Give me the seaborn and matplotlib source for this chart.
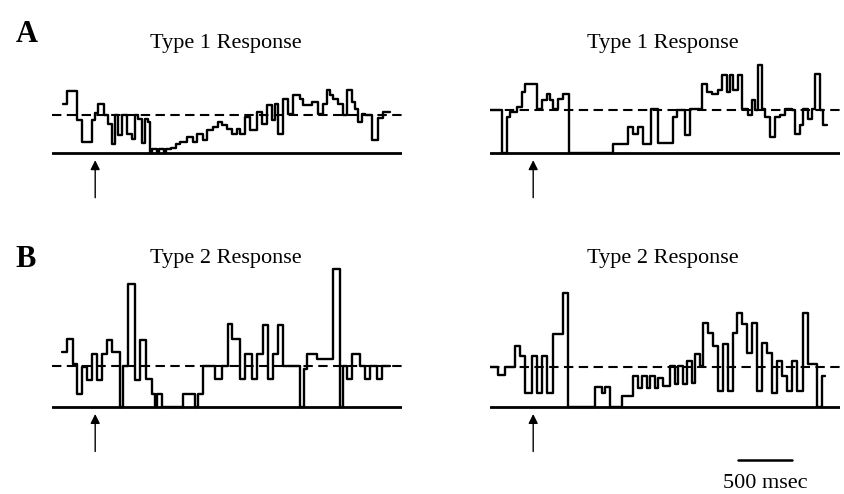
import numpy as np
import pandas as pd
import matplotlib
matplotlib.use("Agg")
import matplotlib.pyplot as plt
import seaborn as sns

# ---------------- data (time in ms, rate in spikes/s) ----------------
stim_ms = 400
xmax_ms = 3241
scale_ms = 500

# Type 1, left cell
a1_t = [99, 142, 229, 275, 368, 398, 429, 484, 521, 553, 583, 614, 645, 692, 738, 769, 799, 831,
        861, 892, 907, 926, 972, 991, 1037, 1056, 1102, 1148, 1185, 1250, 1306, 1343, 1398, 1435,
        1491, 1537, 1574, 1621, 1667, 1713, 1741, 1787, 1833, 1898, 1945, 1991, 2037, 2065, 2093,
        2139, 2185, 2232, 2296, 2324, 2408, 2463, 2509, 2547, 2574, 2602, 2648, 2695, 2732, 2778,
        2806, 2834, 2871, 2898, 2963, 3019, 3065]
a1_r = [49, 62, 33, 11, 33, 40, 49, 38, 29, 9, 38, 18, 38, 19, 14, 38, 34, 10,
        34, 31, 0, 3.5, 0, 3.5, 0, 3.5, 5, 9, 11, 16, 11, 19, 13, 23,
        26, 31, 28, 24, 19, 24, 19, 36, 23, 41, 29, 48, 33, 49, 19,
        54, 39, 58, 54, 48, 51, 39, 49, 63, 58, 54, 49, 38, 63, 51,
        44, 31, 39, 38, 13, 35, 41]
a1_end = 3130
a1_mean = 38

# Type 1, right cell
a2_t = [0, 111, 157, 185, 250, 296, 324, 435, 482, 528, 556, 583, 630, 676, 732, 1139, 1278,
        1324, 1370, 1417, 1491, 1556, 1695, 1732, 1806, 1852, 1963, 2009, 2056, 2111, 2148, 2195,
        2222, 2250, 2296, 2334, 2389, 2426, 2454, 2482, 2519, 2547, 2593, 2639, 2685, 2732, 2797,
        2824, 2871, 2898, 2945, 2982, 3010, 3056, 3084]
a2_r = [43, 0, 36, 41, 46, 61, 69, 44, 53, 59, 53, 44, 54, 59, 0, 9, 26,
        19, 26, 9, 44, 10, 36, 43, 18, 44, 69, 61, 59, 63, 78, 61,
        78, 63, 78, 44, 38, 53, 43, 88, 44, 36, 16, 36, 38, 44, 43,
        19, 28, 44, 34, 44, 79, 43, 28]
a2_end = 3121
a2_mean = 43

# Type 2, left cell
b1_t = [93, 139, 194, 232, 278, 324, 370, 417, 463, 509, 556, 630, 657, 704, 769, 815, 870, 926,
        954, 972, 1019, 1213, 1324, 1352, 1398, 1509, 1574, 1630, 1667, 1741, 1787, 1852, 1898,
        1954, 2000, 2046, 2093, 2139, 2296, 2334, 2361, 2454, 2602, 2667, 2695, 2732, 2778, 2852,
        2898, 2945, 3010, 3056]
b1_r = [55, 68, 43, 13, 40, 27, 53, 27, 53, 67, 55, 0, 41, 123, 27, 67, 28, 13,
        0, 13, 0, 13, 0, 13, 41, 28, 41, 83, 68, 28, 53, 28, 53,
        82, 28, 53, 82, 41, 0, 38, 53, 48, 138, 0, 41, 28, 53, 41,
        28, 41, 28, 41]
b1_end = 3130
b1_mean = 41

# Type 2, right cell
b2_t = [0, 74, 139, 232, 278, 324, 389, 435, 482, 528, 583, 676, 722, 972, 1037, 1065, 1111, 1222,
        1324, 1370, 1408, 1454, 1482, 1528, 1556, 1602, 1667, 1713, 1741, 1787, 1824, 1871, 1898,
        1945, 1972, 2019, 2065, 2111, 2158, 2204, 2250, 2287, 2334, 2380, 2426, 2472, 2519, 2565,
        2611, 2658, 2704, 2750, 2797, 2843, 2898, 2945, 3028, 3074]
b2_r = [40, 32, 40, 61, 51, 14, 51, 14, 51, 14, 73, 114, 0, 20, 14, 20, 0, 11,
        31, 19, 31, 19, 31, 19, 29, 21, 41, 23, 41, 23, 46, 24, 53,
        41, 84, 74, 61, 16, 63, 16, 74, 94, 83, 54, 84, 16, 64, 54,
        14, 46, 31, 16, 46, 16, 94, 43, 0, 31]
b2_end = 3102
b2_mean = 40

titles = ["Type 1 Response", "Type 1 Response", "Type 2 Response", "Type 2 Response"]
row_labels = ["A", "B"]
scale_label = "500 msec"

# ---------------- figure ----------------
sns.set_style("white")
plt.rcParams["font.family"] = ["Liberation Serif", "DejaVu Serif"]
plt.rcParams["text.color"] = "black"

W, H = 845, 494
fig = plt.figure(figsize=(W / 100, H / 100), dpi=100)


def rect(x0, y_top, w, h):
    return [x0 / W, 1 - (y_top + h) / H, w / W, h / H]


panels = [
    (a1_t, a1_r, a1_end, a1_mean, rect(52, 57.7, 350, 100), (-5, 95)),
    (a2_t, a2_r, a2_end, a2_mean, rect(490, 57.7, 350, 100), (-5, 95)),
    (b1_t, b1_r, b1_end, b1_mean, rect(52, 261.5, 350, 150), (-5, 145)),
    (b2_t, b2_r, b2_end, b2_mean, rect(490, 261.5, 350, 150), (-5, 145)),
]

axes = []
for i, (t, r, tend, mean, rc, yl) in enumerate(panels):
    ax = fig.add_axes(rc)
    df = pd.DataFrame({"t": list(t) + [tend], "rate": list(r) + [r[-1]]})
    sns.lineplot(data=df, x="t", y="rate", ax=ax, color="black", lw=1.7,
                 drawstyle="steps-post", estimator=None, sort=False)
    ax.axhline(0, color="black", lw=2.0)
    ax.axhline(mean, color="black", lw=1.5, dashes=(4.5, 2.6))
    ax.set_xlim(0, xmax_ms)
    ax.set_ylim(*yl)
    ax.axis("off")
    # stimulus arrow
    ax.annotate("", xy=(stim_ms, -7.5), xytext=(stim_ms, -45),
                arrowprops=dict(arrowstyle="-|>", lw=1.0, color="black",
                                mutation_scale=14, shrinkA=0, shrinkB=0),
                annotation_clip=False)
    axes.append(ax)

# titles
fig.text(226 / W, 1 - 48 / H, titles[0], ha="center", va="baseline", fontsize=16)
fig.text(663 / W, 1 - 48 / H, titles[1], ha="center", va="baseline", fontsize=16)
fig.text(226 / W, 1 - 263 / H, titles[2], ha="center", va="baseline", fontsize=16)
fig.text(663 / W, 1 - 263 / H, titles[3], ha="center", va="baseline", fontsize=16)

# panel letters
fig.text(27 / W, 1 - 42 / H, row_labels[0], ha="center", va="baseline",
         fontsize=22, fontweight="bold")
fig.text(26 / W, 1 - 267 / H, row_labels[1], ha="center", va="baseline",
         fontsize=22, fontweight="bold")

# scale bar on the last panel
axb = axes[3]
x0 = 2296
axb.plot([x0, x0 + scale_ms], [-53.5, -53.5], color="black", lw=1.8, clip_on=False)
axb.text(x0 + scale_ms / 2, -81.5, scale_label, ha="center", va="baseline",
         fontsize=16, clip_on=False)

fig.savefig("out.png", dpi=100)
